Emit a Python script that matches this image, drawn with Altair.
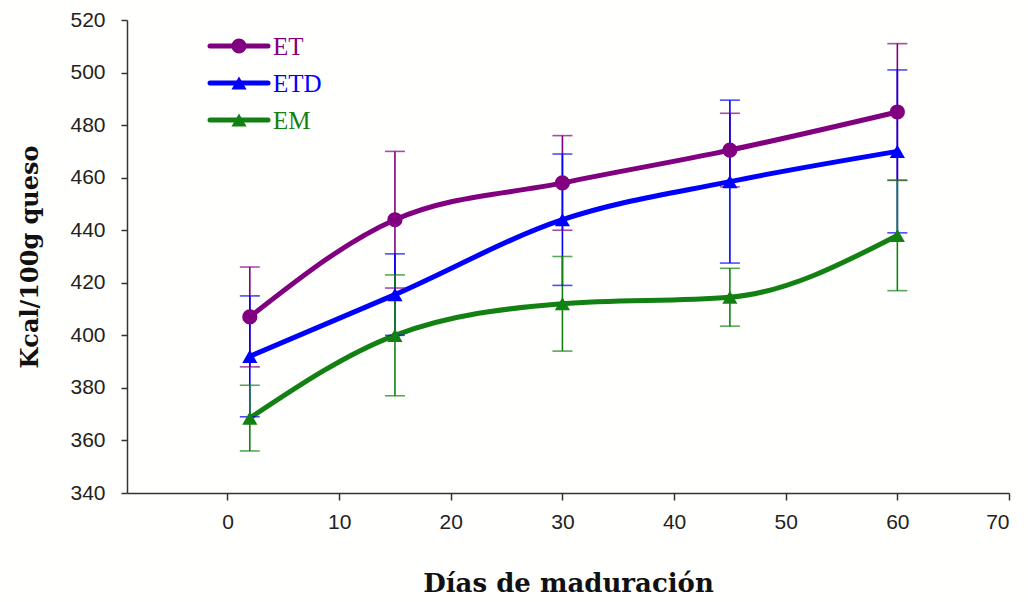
import altair as alt
import pandas as pd

days = [2, 15, 30, 45, 60]
series_names = ["ET", "ETD", "EM"]
et = [407, 444, 458, 470.5, 485]
et_err = [19, 26, 18, 14, 26]
etd = [392, 415.5, 444, 458.5, 470]
etd_err = [23, 15.5, 25, 31, 31]
em = [368.5, 400, 412, 414.5, 438]
em_err = [12.5, 23, 18, 11, 21]
colors = ["#800080", "#0000FF", "#138013"]
x_ticks = [0, 10, 20, 30, 40, 50, 60, 70]
y_ticks = [340, 360, 380, 400, 420, 440, 460, 480, 500, 520]

rows = []
for name, vals, errs in zip(series_names, [et, etd, em], [et_err, etd_err, em_err]):
    for d, v, e in zip(days, vals, errs):
        rows.append({"serie": name, "dia": d, "kcal": v, "lo": v - e, "hi": v + e})
df = pd.DataFrame(rows)

xs = alt.Scale(domain=[-9, 70], nice=False, zero=False)
ys = alt.Scale(domain=[340, 520], nice=False, zero=False)
cs = alt.Scale(domain=series_names, range=colors)
shape_s = alt.Scale(domain=series_names, range=["circle", "triangle-up", "triangle-up"])

xax = alt.Axis(values=x_ticks, title="Días de maduración", grid=False, tickSize=7,
               labelFontSize=21, labelFont="Liberation Sans", labelColor="#222",
               titleFont="DejaVu Serif", titleFontSize=26, titleFontWeight="bold",
               titlePadding=38, labelPadding=11, domainColor="#333", tickColor="#333",
               domainWidth=1.5, tickWidth=1.5, titleColor="#111")
yax = alt.Axis(values=y_ticks, title="Kcal/100g queso", grid=False, tickSize=6,
               labelFontSize=21, labelFont="Liberation Sans", labelColor="#222",
               titleFont="DejaVu Serif", titleFontSize=24, titleFontWeight="bold",
               titlePadding=27, labelPadding=16, domainColor="#333", tickColor="#333",
               domainWidth=1.5, tickWidth=1.5, titleColor="#111")

base = alt.Chart(df)

lines = base.mark_line(strokeWidth=5, interpolate="monotone").encode(
    x=alt.X("dia:Q", scale=xs, axis=xax),
    y=alt.Y("kcal:Q", scale=ys, axis=yax),
    color=alt.Color("serie:N", scale=cs, legend=None),
    detail="serie:N",
)

points = base.mark_point(filled=True, opacity=1).encode(
    x=alt.X("dia:Q", scale=xs),
    y=alt.Y("kcal:Q", scale=ys),
    color=alt.Color("serie:N", scale=cs, legend=None),
    shape=alt.Shape("serie:N", scale=shape_s, legend=None),
    size=alt.value(230),
)

err_rule = base.mark_rule(strokeWidth=1.6).encode(
    x=alt.X("dia:Q", scale=xs),
    y=alt.Y("lo:Q", scale=ys),
    y2="hi:Q",
    color=alt.Color("serie:N", scale=cs, legend=None),
)
cap_lo = base.mark_tick(orient="horizontal", thickness=1.6, size=20).encode(
    x=alt.X("dia:Q", scale=xs),
    y=alt.Y("lo:Q", scale=ys),
    color=alt.Color("serie:N", scale=cs, legend=None),
)
cap_hi = base.mark_tick(orient="horizontal", thickness=1.6, size=20).encode(
    x=alt.X("dia:Q", scale=xs),
    y=alt.Y("hi:Q", scale=ys),
    color=alt.Color("serie:N", scale=cs, legend=None),
)

legend_layers = []
leg_shapes = ["circle", "triangle-up", "triangle-up"]
for i, (name, col, shp) in enumerate(zip(series_names, colors, leg_shapes)):
    yy = 26 + i * 37
    ldf = pd.DataFrame({"serie": [name]})
    lc = alt.Chart(ldf)
    legend_layers.append(lc.mark_rule(strokeWidth=5, color=col, strokeCap="round").encode(
        x=alt.value(83), x2=alt.value(141), y=alt.value(yy)))
    legend_layers.append(lc.mark_point(filled=True, opacity=1, color=col, shape=shp, size=230).encode(
        x=alt.value(112), y=alt.value(yy)))
    legend_layers.append(lc.mark_text(align="left", baseline="middle", font="Liberation Serif",
                                      fontSize=25, color=col).encode(
        x=alt.value(146), y=alt.value(yy + 1), text="serie:N"))

chart = alt.layer(lines, err_rule, cap_lo, cap_hi, points, *legend_layers).properties(
    width=882, height=473,
    autosize=alt.AutoSizeParams(type="none"),
    padding={"left": 127, "top": 20, "right": 19, "bottom": 109},
    background="#FFFFFD",
).configure_view(stroke=None)

chart.save("out.html", embed_options={"renderer": "svg", "actions": False})
